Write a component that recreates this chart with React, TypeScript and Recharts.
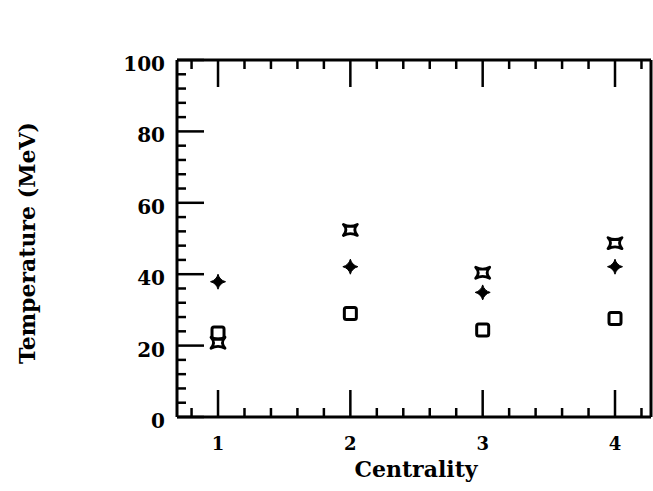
import { Scatter, ScatterChart, XAxis, YAxis } from "recharts";

// Temperatura vs centralidade, três séries de símbolos pretos, moldura com ticks nos 4 lados.

const centrality = [1, 2, 3, 4];
const tempCross = [20.8, 52.4, 40.4, 48.7];
const tempStar = [37.9, 42.1, 34.9, 42.1];
const tempSquare = [23.5, 29.0, 24.4, 27.6];

const xTicks = [0.8, 1, 1.2, 1.4, 1.6, 1.8, 2, 2.2, 2.4, 2.6, 2.8, 3, 3.2, 3.4, 3.6, 3.8, 4, 4.2];
const yTicks = [0, 4, 8, 12, 16, 20, 24, 28, 32, 36, 40, 44, 48, 52, 56, 60, 64, 68, 72, 76, 80, 84, 88, 92, 96, 100];
const xMajor = [1, 2, 3, 4];
const yMajor = [0, 20, 40, 60, 80, 100];

const rows = centrality.map((c, i) => ({
  c,
  cross: tempCross[i],
  star: tempStar[i],
  square: tempSquare[i],
}));

const FONT = "'DejaVu Serif', serif";
const INK = "#000";
const X_DOMAIN: [number, number] = [0.69, 4.272];

const isMajorX = (v: number) => xMajor.some((m) => Math.abs(m - v) < 1e-6);
const isMajorY = (v: number) => yMajor.some((m) => Math.abs(m - v) < 1e-6);

function BottomTick({ x, y, payload }: any) {
  const major = isMajorX(payload.value);
  return (
    <g>
      <line x1={x} y1={y} x2={x} y2={y - (major ? 27 : 9)} stroke={INK} strokeWidth={2.5} />
      {major ? (
        <text x={x} y={y + 33} textAnchor="middle" fontFamily={FONT} fontWeight="bold" fontSize={18} fill={INK}>
          {payload.value}
        </text>
      ) : null}
    </g>
  );
}

function TopTick({ x, y, payload }: any) {
  const major = isMajorX(payload.value);
  return <line x1={x} y1={y} x2={x} y2={y + (major ? 27 : 9)} stroke={INK} strokeWidth={2.5} />;
}

function LeftTick({ x, y, payload }: any) {
  const major = isMajorY(payload.value);
  return (
    <g>
      <line x1={x} y1={y} x2={x + (major ? 27 : 9)} y2={y} stroke={INK} strokeWidth={2.5} />
      {major ? (
        <text x={x - 12} y={y + 11} textAnchor="end" fontFamily={FONT} fontWeight="bold" fontSize={20} fill={INK}>
          {payload.value}
        </text>
      ) : null}
    </g>
  );
}

function RightTick({ x, y, payload }: any) {
  const major = isMajorY(payload.value);
  return <line x1={x} y1={y} x2={x - (major ? 24 : 8)} y2={y} stroke={INK} strokeWidth={2.5} />;
}

function StarShape({ cx, cy }: any) {
  return (
    <path
      transform={`translate(${cx},${cy})`}
      d="M0 -7.5 Q1.6 -1.6 7.5 0 Q1.6 1.6 0 7.5 Q-1.6 1.6 -7.5 0 Q-1.6 -1.6 0 -7.5 Z"
      fill={INK}
      stroke={INK}
      strokeWidth={1}
    />
  );
}

function CrossShape({ cx, cy }: any) {
  return (
    <path
      transform={`translate(${cx},${cy})`}
      d="M-7 -5.5 Q0 -1.8 7 -5.5 Q2 0 7 5.5 Q0 1.8 -7 5.5 Q-2 0 -7 -5.5 Z"
      fill="none"
      stroke={INK}
      strokeWidth={2.8}
      strokeLinejoin="round"
    />
  );
}

function SquareShape({ cx, cy }: any) {
  return <rect x={cx - 6} y={cy - 6} width={12} height={12} rx={2} fill="none" stroke={INK} strokeWidth={3} />;
}

function YTitle({ viewBox }: any) {
  const cx = 27;
  const cy = viewBox.y + viewBox.height / 2 + 4.5;
  return (
    <text
      x={cx}
      y={cy}
      transform={`rotate(-90 ${cx} ${cy})`}
      textAnchor="middle"
      dominantBaseline="central"
      fontFamily={FONT}
      fontWeight="bold"
      fontSize={22}
      fill={INK}
    >
      Temperature (MeV)
    </text>
  );
}

function XTitle({ viewBox }: any) {
  const cx = viewBox.x + viewBox.width / 2 + 2;
  return (
    <text x={cx} y={477} textAnchor="middle" fontFamily={FONT} fontWeight="bold" fontSize={22} fill={INK}>
      Centrality
    </text>
  );
}

export default function App() {
  return (
    <div style={{ position: "fixed", left: 0, top: 0, width: 653, height: 491, background: "#fff" }}>
      <ScatterChart width={653} height={491} margin={{ top: 0, right: 0, bottom: 0, left: 0 }}>
        <XAxis
          xAxisId="bottom"
          orientation="bottom"
          dataKey="c"
          type="number"
          domain={X_DOMAIN}
          allowDataOverflow
          ticks={xTicks}
          interval={0}
          height={74}
          tickSize={0}
          tickMargin={0}
          tickLine={false}
          axisLine={{ stroke: INK, strokeWidth: 3 }}
          tick={(p: any) => <BottomTick {...p} />}
          label={{ content: (p: any) => <XTitle {...p} /> }}
        />
        <XAxis
          xAxisId="top"
          orientation="top"
          dataKey="c"
          type="number"
          domain={X_DOMAIN}
          allowDataOverflow
          ticks={xTicks}
          interval={0}
          height={60}
          tickSize={0}
          tickMargin={0}
          tickLine={false}
          axisLine={{ stroke: INK, strokeWidth: 3 }}
          tick={(p: any) => <TopTick {...p} />}
        />
        <YAxis
          yAxisId="left"
          orientation="left"
          type="number"
          domain={[0, 100]}
          ticks={yTicks}
          interval={0}
          width={177}
          tickSize={0}
          tickMargin={0}
          tickLine={false}
          axisLine={{ stroke: INK, strokeWidth: 3 }}
          tick={(p: any) => <LeftTick {...p} />}
          label={{ content: (p: any) => <YTitle {...p} /> }}
        />
        <YAxis
          yAxisId="right"
          orientation="right"
          type="number"
          domain={[0, 100]}
          ticks={yTicks}
          interval={0}
          width={2}
          tickSize={0}
          tickMargin={0}
          tickLine={false}
          axisLine={{ stroke: INK, strokeWidth: 3 }}
          tick={(p: any) => <RightTick {...p} />}
        />
        <Scatter data={rows} dataKey="square" xAxisId="bottom" yAxisId="left" shape={(p: any) => <SquareShape {...p} />} isAnimationActive={false} />
        <Scatter data={rows} dataKey="cross" xAxisId="bottom" yAxisId="left" shape={(p: any) => <CrossShape {...p} />} isAnimationActive={false} />
        <Scatter data={rows} dataKey="star" xAxisId="bottom" yAxisId="left" shape={(p: any) => <StarShape {...p} />} isAnimationActive={false} />
      </ScatterChart>
    </div>
  );
}
